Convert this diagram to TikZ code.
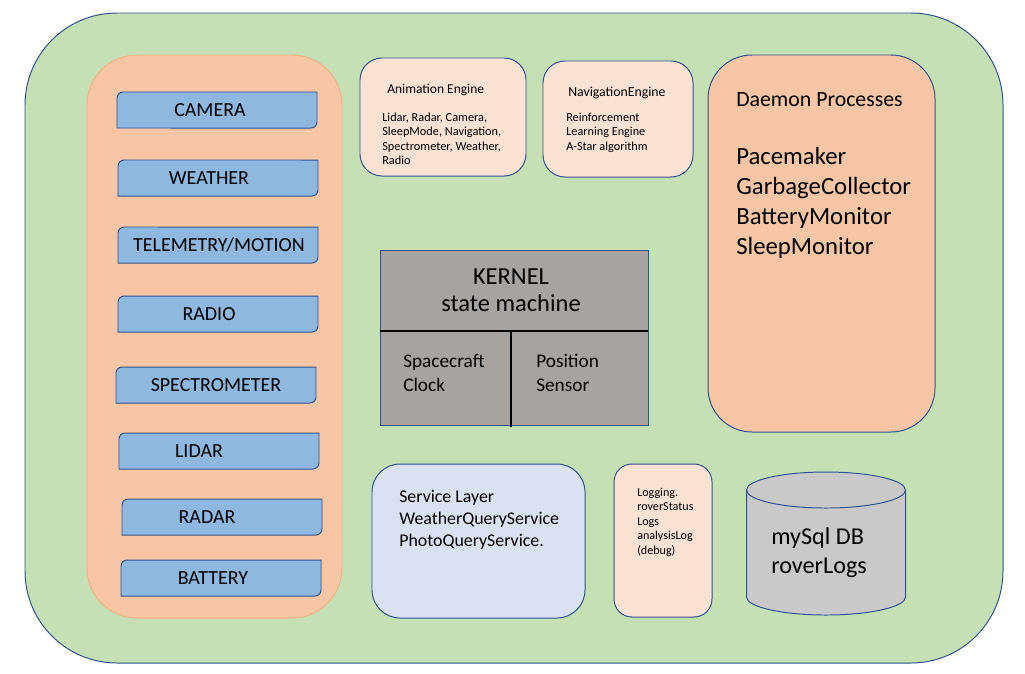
\documentclass[tikz,border=0pt]{standalone}
\usepackage{fontspec}
\setmainfont{Carlito}
\definecolor{edge}{HTML}{2F528F}
\definecolor{board}{HTML}{C5E0B4}
\definecolor{panel}{HTML}{F8C6A4}
\definecolor{panelrim}{HTML}{F4B183}
\definecolor{sensor}{HTML}{8FB8E0}
\definecolor{peach}{HTML}{FBE2D3}
\definecolor{kernel}{HTML}{A6A3A1}
\definecolor{service}{HTML}{D9E2F3}
\definecolor{dbgray}{HTML}{C9C9C9}
\begin{document}
\begin{tikzpicture}[x=0.025cm, y=0.025cm,
  box/.style={draw=edge, line width=0.7pt},
  words/.style={inner sep=0, anchor=base west, align=left},
  sensortext/.style={inner sep=0, font={\fontsize{14.2}{17}\selectfont}}]
\useasboundingbox (0,0) rectangle (1025,-673);

% the board
\draw[box, fill=board, rounded corners=2.3cm] (25,-13) rectangle (1003,-663);

% instruments
\draw[draw=panelrim, line width=0.7pt, fill=panel, rounded corners=1.25cm] (87,-55) rectangle (342,-618);
\foreach \name/\x/\y/\tx/\txt in {camera/117/92/210/CAMERA, weather/118/160/209/WEATHER,
    telemetry/118/227/219/{TELEMETRY/MOTION}, radio/118/296/209/RADIO,
    spectrometer/116/367/216/SPECTROMETER, lidar/119/433/199/LIDAR,
    radar/122/499/207/RADAR, battery/121/560/213/BATTERY} {
  \draw[box, fill=sensor] (\x,-\y-36) -- (\x,-\y-6) arc[start angle=180, end angle=90, radius=0.15cm]
    -- (\x+200,-\y) -- (\x+200,-\y-30) arc[start angle=0, end angle=-90, radius=0.15cm] -- cycle;
  \node[sensortext] (\name) at (\tx,-\y-18) {\txt};
}

% engines (multi-line texts sit on their last baseline)
\draw[box, fill=peach, rounded corners=0.55cm] (360,-58) rectangle (526,-176);
\node[words, font={\fontsize{9.6}{11.5}\selectfont}] (animtitle) at (387,-93) {Animation Engine};
\node[words, font={\fontsize{8.75}{10.3}\selectfont}] (animbody) at (382,-164.5)
  {Lidar, Radar, Camera,\\SleepMode, Navigation,\\Spectrometer, Weather,\\Radio};

\draw[box, fill=peach, rounded corners=0.55cm] (543,-61) rectangle (693,-177);
\node[words, font={\fontsize{9.8}{11.7}\selectfont}] (navtitle) at (568,-96) {NavigationEngine};
\node[words, font={\fontsize{8.7}{10.3}\selectfont}] (navbody) at (566,-150)
  {Reinforcement\\Learning Engine\\A-Star algorithm};

% daemons
\draw[box, fill=panel, rounded corners=1.1cm] (708,-55) rectangle (935,-432);
\node[words, font={\fontsize{15.5}{18.6}\selectfont}] (daemontitle) at (736,-106) {Daemon Processes};
\node[words, font={\fontsize{17.6}{21.3}\selectfont}] (daemonlist) at (736,-254)
  {Pacemaker\\GarbageCollector\\BatteryMonitor\\SleepMonitor};

% kernel
\draw[draw=edge, line width=0.5pt, fill=kernel] (380,-250) rectangle (648,-425);
\draw[line width=2pt] (380,-331) -- (648,-331);
\draw[line width=2pt] (511,-331) -- (511,-427);
\node[inner sep=0, anchor=base, align=center, font={\fontsize{17.4}{19.2}\selectfont}] (kernel) at (511,-311)
  {KERNEL\\state machine};
\node[words, font={\fontsize{13.7}{16.4}\selectfont}] (clock) at (403,-391) {Spacecraft\\Clock};
\node[words, font={\fontsize{13.7}{16.4}\selectfont}] (position) at (536,-391) {Position\\Sensor};

% services and logs
\draw[box, fill=service, rounded corners=0.7cm] (372,-464) rectangle (585,-618);
\node[words, font={\fontsize{12.7}{15.6}\selectfont}] (service) at (399,-546)
  {Service Layer\\WeatherQueryService\\PhotoQueryService.};

\draw[box, fill=peach, rounded corners=0.45cm] (614,-464) rectangle (712,-617);
\node[words, font={\fontsize{8.6}{10.3}\selectfont}] (logging) at (637,-554)
  {Logging.\\roverStatus\\Logs\\analysisLog\\(debug)};

% database
\fill[dbgray] (746.5,-490) -- (746.5,-597) arc[start angle=180, end angle=360, x radius=1.9875cm, y radius=0.45cm]
  -- (905.5,-490) arc[start angle=0, end angle=180, x radius=1.9875cm, y radius=0.45cm];
\draw[box] (826,-490) ellipse[x radius=1.9875cm, y radius=0.45cm];
\draw[box] (746.5,-490) -- (746.5,-597) arc[start angle=180, end angle=360, x radius=1.9875cm, y radius=0.45cm]
  -- (905.5,-490);
\node[words, font={\fontsize{17.2}{20}\selectfont}] (db) at (771,-573) {mySql DB\\roverLogs};
\end{tikzpicture}
\end{document}
